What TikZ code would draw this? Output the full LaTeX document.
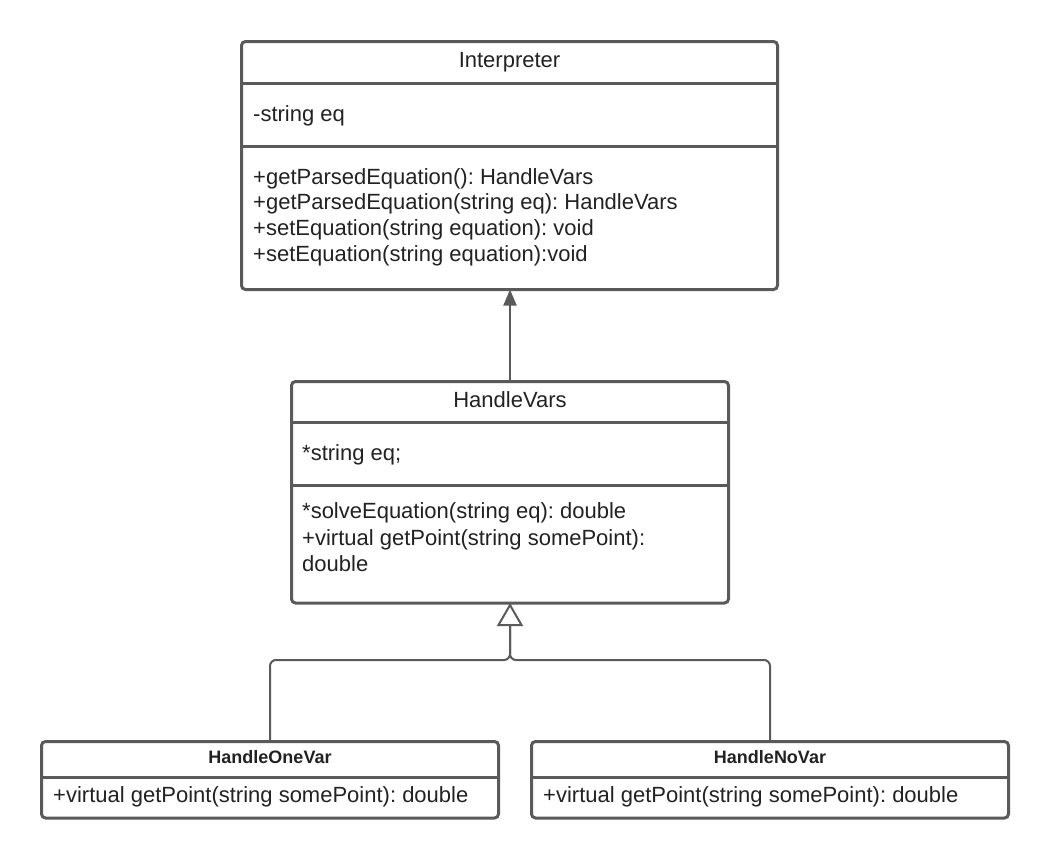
\documentclass[tikz,border=0pt]{standalone}
\usepackage{fontspec}
\setmainfont{Liberation Sans}
\usetikzlibrary{arrows.meta,positioning}
\definecolor{umlline}{HTML}{5A5A5A}
\definecolor{umltext}{HTML}{222222}
\newcommand{\umlsep}[2]{\draw[sep] (#1.west |- 0,#2) -- (#1.east |- 0,#2);}
\frenchspacing

\begin{document}
\begin{tikzpicture}[
    x=1pt,y=-1pt,
    classbox/.style={draw=umlline,line width=3pt,rounded corners=4pt,fill=white,
      inner sep=0pt,outer sep=0pt,anchor=north west},
    sep/.style={draw=umlline,line width=3pt},
    member/.style={anchor=base west,inner sep=0pt,text=umltext,font=\fontsize{22}{26}\selectfont},
    cname/.style={anchor=base,inner sep=0pt,text=umltext,font=\fontsize{22}{26}\selectfont},
    sname/.style={cname,font=\fontsize{18}{21}\selectfont\bfseries},
    conn/.style={draw=umlline,line width=2pt},
    ]
    \useasboundingbox (0,0) rectangle (1050,860);

    % classes
    \node[classbox,minimum width=536pt,minimum height=248pt] (interp) at (241.5,41.5) {};
    \node[classbox,minimum width=437pt,minimum height=221.5pt] (vars) at (291.5,381.5) {};
    \node[classbox,minimum width=457pt,minimum height=76.5pt] (onevar) at (41.5,741.5) {};
    \node[classbox,minimum width=477pt,minimum height=76.5pt] (novar) at (531.5,741.5) {};

    \umlsep{interp}{83} \umlsep{interp}{146.5}
    \umlsep{vars}{422.5} \umlsep{vars}{485.5}
    \umlsep{onevar}{777} \umlsep{novar}{777}

    % Interpreter
    \node[cname] (interp-name) at (509.5,67) {Interpreter};
    \node[member] (interp-attr) at (253,121.5) {-string eq};
    \foreach \y/\txt [count=\i] in {184/{+getParsedEquation(): HandleVars},
        209.9/{+getParsedEquation(string eq): HandleVars},
        235.8/{+setEquation(string equation): void},
        261.7/{+setEquation(string equation):void}}
      \node[member] (interp-op\i) at (253,\y) {\txt};

    % HandleVars
    \node[cname] (vars-name) at (510,407) {HandleVars};
    \node[member] (vars-attr) at (302,460) {*string eq;};
    \foreach \y/\txt [count=\i] in {518.3/{*solveEquation(string eq): double},
        545/{+virtual getPoint(string somePoint):},
        571.7/{double}}
      \node[member] (vars-op\i) at (302,\y) {\txt};

    % subclasses
    \node[sname] (onevar-name) at (270,763) {HandleOneVar};
    \node[member] (onevar-op) at (53,802.7) {+virtual getPoint(string somePoint): double};
    \node[sname] (novar-name) at (770,763) {HandleNoVar};
    \node[member] (novar-op) at (543,802.7) {+virtual getPoint(string somePoint): double};

    % relations
    \draw[conn,-{Triangle[length=16pt,width=13pt]}] (vars.north) -- (vars.north |- interp.south);
    \coordinate (join) at (510,660);
    \draw[conn,rounded corners=6pt] (novar.north) |- (join) -- (vars.south);
    \draw[conn,rounded corners=6pt,-{Triangle[open,length=23pt,width=26pt,fill=white]}]
      (onevar.north) |- (join) -- (vars.south);
\end{tikzpicture}
\end{document}
